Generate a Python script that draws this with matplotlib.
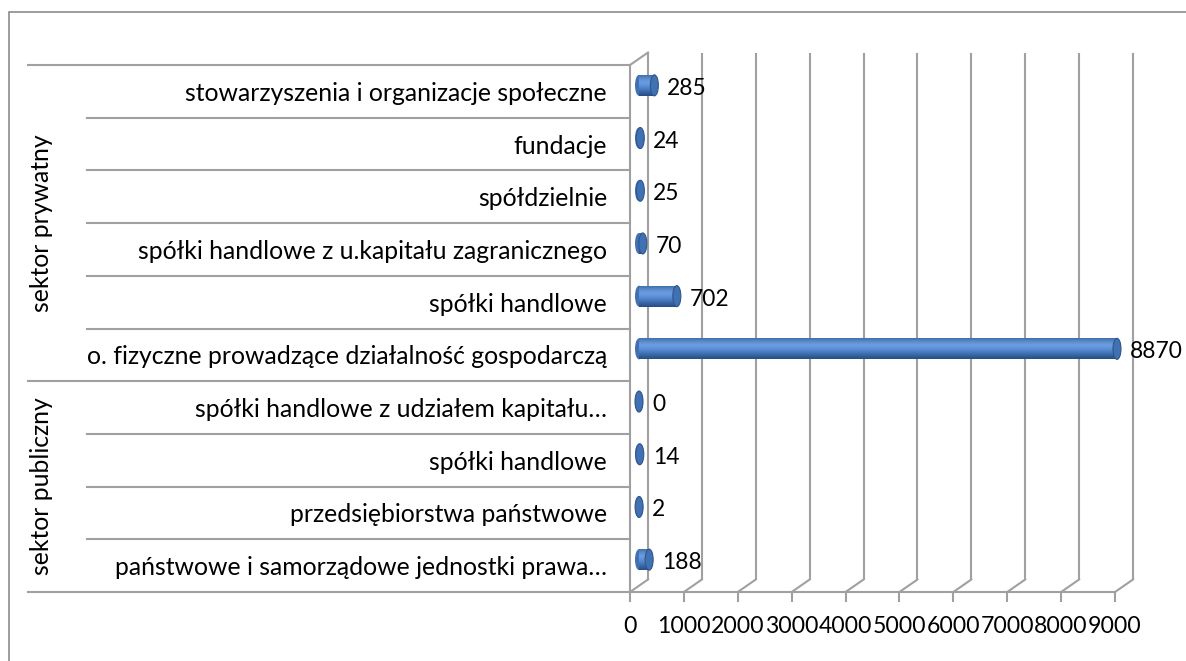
import matplotlib
matplotlib.use('Agg')
import matplotlib.pyplot as plt
import numpy as np
from matplotlib.patches import Ellipse, Rectangle
from matplotlib.transforms import offset_copy
from matplotlib.colors import LinearSegmentedColormap

# ---------------- data (bottom -> top) ----------------
categories = [
    "państwowe i samorządowe jednostki prawa…",
    "przedsiębiorstwa państwowe",
    "spółki handlowe",
    "spółki handlowe z udziałem kapitału…",
    "o. fizyczne prowadzące działalność gospodarczą",
    "spółki handlowe",
    "spółki handlowe z u.kapitału zagranicznego",
    "spółdzielnie",
    "fundacje",
    "stowarzyszenia i organizacje społeczne",
]
values = [188, 2, 14, 0, 8870, 702, 70, 25, 24, 285]
groups = ["sektor publiczny", "sektor prywatny"]
group_sizes = [4, 6]
xticks = [0, 1000, 2000, 3000, 4000, 5000, 6000, 7000, 8000, 9000]
xticklabels = [str(t) for t in xticks]

# ---------------- figure ----------------
W, H = 1186, 661
plt.rcParams['font.family'] = ['Lato', 'DejaVu Sans']
fig = plt.figure(figsize=(W / 100, H / 100), dpi=100)
fig.patch.set_facecolor('white')

L, R, T, B = 630, 1115, 65, 592
ax = fig.add_axes([L / W, 1 - B / H, (R - L) / W, (B - T) / H])
ax.set_xlim(xticks[0], xticks[-1])
ax.set_ylim(-0.5, len(categories) - 0.5)
ax.set_autoscale_on(False)
ax.patch.set_visible(False)

grey = '#a0a0a0'
LW = 1.5
FS = 17.8
FS_TICK = 16.6
FS_VAL = 16.4
for s in ['top', 'right']:
    ax.spines[s].set_visible(False)
for s in ['left', 'bottom']:
    ax.spines[s].set_color(grey)
    ax.spines[s].set_linewidth(LW)

px_x = (xticks[-1] - xticks[0]) / (R - L)
px_y = len(categories) / (B - T)
DX, DY = 18 * px_x, 12.5 * px_y
y0, y1 = -0.5, len(categories) - 0.5

# back wall gridlines and floor diagonals
for t in xticks:
    ax.plot([t + DX, t + DX], [y0 + DY, y1 + DY], color=grey, lw=LW,
            clip_on=False, zorder=1, solid_capstyle='butt')
    ax.plot([t, t + DX], [y0, y0 + DY], color=grey, lw=LW,
            clip_on=False, zorder=1)
# side wall top edge
ax.plot([0, DX], [y1, y1 + DY], color=grey, lw=LW, clip_on=False, zorder=1)

# x ticks
ax.set_xticks(xticks)
ax.set_xticklabels(xticklabels)
ax.tick_params(axis='x', length=7, width=LW, color=grey, pad=10,
               labelsize=FS_TICK, labelcolor='black')
# y ticks = category labels
ax.set_yticks(range(len(categories)))
ax.set_yticklabels(categories)
ax.tick_params(axis='y', length=0, pad=16.5, labelsize=FS, labelcolor='black')

# table lines on the left
yt = ax.get_yaxis_transform()
x_sub = (87 - L) / (R - L)
x_grp = (28 - L) / (R - L)
group_bounds = set(np.cumsum([0] + group_sizes) - 0.5)
for k in range(len(categories) + 1):
    yb = k - 0.5
    xs = x_grp if yb in group_bounds else x_sub
    ax.plot([xs, 0], [yb, yb], color=grey, lw=LW, transform=yt,
            clip_on=False, zorder=1)

# group labels
start = 0
x_lab = (42 - L) / (R - L)
for g, n in zip(groups, group_sizes):
    ax.text(x_lab, start + (n - 1) / 2, g, transform=yt, rotation=90,
            ha='center', va='center', fontsize=FS, color='black')
    start += n

# ---------------- cylinders ----------------
body_tr = offset_copy(ax.transData, fig=fig, x=9, y=6, units='dots')
label_tr = offset_copy(ax.transData, fig=fig, x=22, y=3, units='dots')
cmap = LinearSegmentedColormap.from_list(
    'cyl', ['#284e82', '#3662a0', '#4b7cc1', '#5e91d8', '#6c9de0',
            '#5c8cce', '#416fae'])
grad = np.linspace(0, 1, 64).reshape(-1, 1)
h = 21 * px_y
w = 8 * px_x
for i, v in enumerate(values):
    # left rounded end
    ax.add_patch(Ellipse((0, i), w, h, facecolor='#4271b3', edgecolor='none',
                         transform=body_tr, clip_on=False, zorder=3))
    if v > 0:
        im = ax.imshow(grad, cmap=cmap, origin='lower', aspect='auto',
                       extent=[0, v, i - h / 2, i + h / 2],
                       interpolation='bilinear', zorder=4)
        im.set_transform(body_tr)
        im.set_clip_on(False)
    ax.add_patch(Ellipse((v, i), w, h, facecolor='#4170b3', edgecolor='#2e578b',
                         lw=0.8, transform=body_tr, clip_on=False, zorder=5))
    ax.text(v, i, str(v), transform=label_tr, ha='left', va='center',
            fontsize=FS_VAL, color='black', zorder=6)

# outer chart border
fig.add_artist(Rectangle((9 / W, -0.1), 1.2, (H - 12) / H + 0.1,
                         transform=fig.transFigure, fill=False,
                         edgecolor='#8c8c8c', lw=1.2))

fig.savefig('out.png', dpi=100, facecolor='white')
